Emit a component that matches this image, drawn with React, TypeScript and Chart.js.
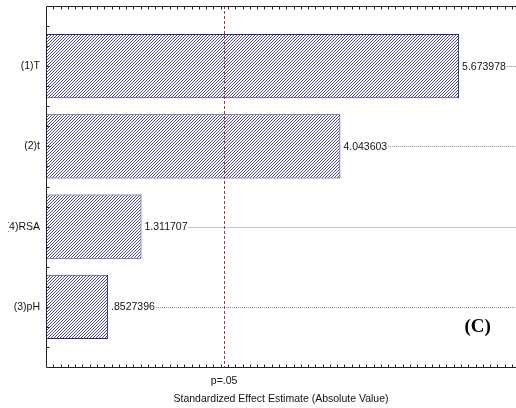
import React, { useEffect, useRef } from "react";
import { Chart, registerables } from "chart.js";

Chart.register(...registerables);

const factorLabels = ["(1)T", "(2)t", "(4)RSA", "(3)pH"];
const effectValues = [5.673978, 4.043603, 1.311707, 0.8527396];
const pCritical = 2.446912;
const pLabel = "p=.05";
const xTitle = "Standardized Effect Estimate (Absolute Value)";
const panelTag = "(C)";

const FONT = "'Liberation Sans', Arial, sans-serif";
const FS = 10.5;

function makeHatch(): CanvasPattern | string {
  const c = document.createElement("canvas");
  c.width = 3;
  c.height = 3;
  const g = c.getContext("2d");
  if (!g) return "#5050a0";
  g.fillStyle = "#ffffff";
  g.fillRect(0, 0, 3, 3);
  g.fillStyle = "#4a4a98";
  g.fillRect(0, 2, 1, 1);
  g.fillRect(1, 1, 1, 1);
  g.fillRect(2, 0, 1, 1);
  const p = g.createPattern(c, "repeat");
  return p || "#5050a0";
}

function fmt(v: number): string {
  return v.toPrecision(7).replace(/^0\./, ".");
}

const tagPos = { x: 5.93, y: 3.25 };

const decorPlugin = {
  id: "decor",
  beforeDatasetsDraw(chart: any) {
    const { ctx, chartArea, scales } = chart;
    const x = scales.x;
    const y = scales.y;
    ctx.save();
    ctx.font = `${FS}px ${FONT}`;
    ctx.strokeStyle = "#8a8a8a";
    ctx.lineWidth = 1;
    ctx.setLineDash([1, 1]);
    effectValues.forEach((v, i) => {
      const px = x.getPixelForValue(v);
      const py = Math.round(y.getPixelForValue(i)) + 0.5;
      const w = ctx.measureText(fmt(v)).width;
      ctx.beginPath();
      ctx.moveTo(px + 3 + w + 1, py);
      ctx.lineTo(chartArea.right, py);
      ctx.stroke();
    });
    ctx.restore();
  },
  afterDatasetsDraw(chart: any) {
    const { ctx, chartArea, scales } = chart;
    const x = scales.x;
    const y = scales.y;
    ctx.save();
    ctx.font = `${FS}px ${FONT}`;
    ctx.fillStyle = "#111";
    ctx.textBaseline = "middle";
    ctx.textAlign = "left";
    effectValues.forEach((v, i) => {
      const px = x.getPixelForValue(v);
      const py = y.getPixelForValue(i);
      ctx.fillText(fmt(v), px + 3, py + 0.5);
    });
    const cx = Math.round(x.getPixelForValue(pCritical)) + 0.5;
    ctx.strokeStyle = "#a83838";
    ctx.lineWidth = 1;
    ctx.setLineDash([3, 2]);
    ctx.beginPath();
    ctx.moveTo(cx, chartArea.top);
    ctx.lineTo(cx, chartArea.bottom);
    ctx.stroke();
    ctx.setLineDash([]);
    ctx.strokeStyle = "#222";
    const L = Math.round(chartArea.left) + 0.5;
    const T = Math.round(chartArea.top) + 0.5;
    const B = Math.round(chartArea.bottom) + 0.5;
    ctx.beginPath();
    ctx.moveTo(chartArea.right, T);
    ctx.lineTo(L, T);
    ctx.lineTo(L, B);
    ctx.lineTo(chartArea.right, B);
    ctx.stroke();
    ctx.beginPath();
    for (let k = 1; k <= 70; k++) {
      const v = k * 0.1;
      if (v > x.max) break;
      const px = Math.round(x.getPixelForValue(v)) + 0.5;
      ctx.moveTo(px, T);
      ctx.lineTo(px, T + 3);
      ctx.moveTo(px, B);
      ctx.lineTo(px, B - 3);
    }
    for (let v = y.min + 0.25; v < y.max - 0.01; v += 0.25) {
      const py = Math.round(y.getPixelForValue(v)) + 0.5;
      ctx.moveTo(L, py);
      ctx.lineTo(L + 3, py);
    }
    ctx.stroke();
    ctx.font = `bold 19px 'Liberation Serif', 'Times New Roman', serif`;
    ctx.fillStyle = "#000";
    ctx.textAlign = "center";
    ctx.textBaseline = "middle";
    ctx.fillText(panelTag, x.getPixelForValue(tagPos.x), y.getPixelForValue(tagPos.y));
    ctx.restore();
  },
};

export default function App() {
  const ref = useRef<HTMLCanvasElement | null>(null);
  useEffect(() => {
    if (!ref.current) return;
    const hatch = makeHatch();
    const chart = new Chart(ref.current, {
      type: "bar",
      data: {
        datasets: [
          {
            data: effectValues.map((v, i) => ({ x: v, y: i })),
            backgroundColor: hatch as any,
            borderColor: "#25257a",
            borderWidth: 1,
            borderSkipped: false,
            categoryPercentage: 0.8,
            barPercentage: 1,
          },
        ],
      },
      options: {
        indexAxis: "y",
        animation: false,
        responsive: false,
        maintainAspectRatio: false,
        devicePixelRatio: 1,
        layout: { padding: { top: 6, right: 0, bottom: 0, left: 0 } },
        plugins: { legend: { display: false }, tooltip: { enabled: false } },
        scales: {
          x: {
            type: "linear",
            position: "bottom",
            min: 0,
            max: 6.456,
            offset: false,
            border: { display: false },
            grid: { display: false, drawTicks: false, offset: false },
            afterBuildTicks: (s: any) => {
              s.ticks = [{ value: pCritical }];
            },
            afterFit: (s: any) => {
              s.height = 41;
              s.paddingLeft = 0;
              s.paddingRight = 0;
            },
            ticks: {
              autoSkip: false,
              maxRotation: 0,
              padding: 8,
              color: "#111",
              font: { family: FONT, size: FS },
              callback: () => pLabel,
            },
            title: {
              display: true,
              text: xTitle,
              color: "#111",
              font: { family: FONT, size: FS },
              padding: { top: 0, bottom: 3 },
            },
          },
          y: {
            type: "linear",
            position: "left",
            reverse: true,
            min: -0.75,
            max: 3.75,
            offset: false,
            border: { display: false },
            grid: { display: false, drawTicks: false, offset: false },
            afterBuildTicks: (s: any) => {
              s.ticks = factorLabels.map((_, i) => ({ value: i }));
            },
            afterFit: (s: any) => {
              s.width = 38;
              s.paddingTop = 0;
              s.paddingBottom = 0;
            },
            ticks: {
              autoSkip: false,
              padding: 6,
              color: "#111",
              font: { family: FONT, size: FS },
              callback: (v: any) => factorLabels[Math.round(Number(v))] ?? "",
            },
          },
        },
      },
      plugins: [decorPlugin],
    } as any);
    return () => chart.destroy();
  }, []);
  return (
    <div style={{ position: "absolute", left: 8, top: 0, width: 508, height: 408 }}>
      <canvas ref={ref} width={508} height={408} style={{ display: "block", width: 508, height: 408 }} />
    </div>
  );
}
